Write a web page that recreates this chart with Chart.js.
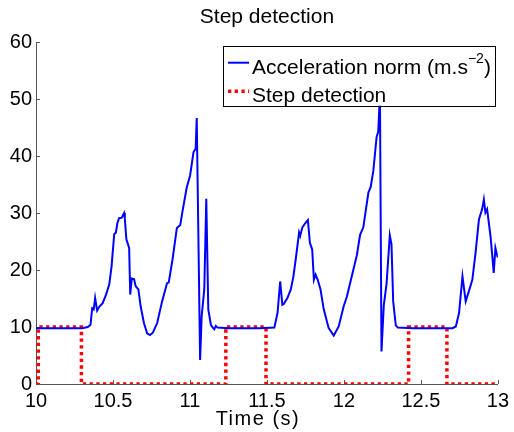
<!DOCTYPE html>
<html>
<head>
<meta charset="utf-8">
<title>Step detection</title>
<script src="https://cdn.jsdelivr.net/npm/chart.js@4.4.0/dist/chart.umd.min.js"></script>
<style>
  body { margin: 0; background: #fff; }
  canvas { display: block; }
</style>
</head>
<body>
<canvas id="stepChart" width="514" height="432"></canvas>
<script>
// acceleration norm samples (time in s, value in m.s^-2)
const accTime = [
  10.000, 10.100, 10.200, 10.300, 10.336, 10.354, 10.365, 10.375, 10.384, 10.397,
  10.412, 10.433, 10.455, 10.476, 10.491, 10.508, 10.519, 10.529, 10.540, 10.557,
  10.572, 10.577, 10.587, 10.605, 10.612, 10.622, 10.637, 10.647, 10.665, 10.680,
  10.701, 10.722, 10.740, 10.759, 10.787, 10.819, 10.851, 10.862, 10.887, 10.915,
  10.937, 10.952, 10.979, 11.001, 11.023, 11.037, 11.044, 11.066, 11.076, 11.093,
  11.106, 11.119, 11.136, 11.148, 11.158, 11.168, 11.179, 11.250, 11.350, 11.450,
  11.548, 11.569, 11.586, 11.600, 11.608, 11.633, 11.655, 11.672, 11.687, 11.709,
  11.716, 11.730, 11.751, 11.766, 11.779, 11.794, 11.805, 11.816, 11.830, 11.848,
  11.869, 11.901, 11.934, 11.966, 11.998, 12.019, 12.051, 12.084, 12.105, 12.126,
  12.159, 12.174, 12.191, 12.212, 12.223, 12.234, 12.244, 12.259, 12.277, 12.298,
  12.309, 12.320, 12.337, 12.350, 12.450, 12.550, 12.650, 12.705, 12.727, 12.748,
  12.770, 12.791, 12.812, 12.834, 12.855, 12.877, 12.898, 12.909, 12.919, 12.930,
  12.952, 12.962, 12.973, 12.984, 12.999
];
const accNorm = [
  9.8, 9.8, 9.8, 9.8, 10.0, 10.4, 13.3, 13.1, 15.1, 12.9,
  13.6, 14.2, 15.7, 17.5, 20.7, 26.3, 26.6, 28.3, 29.1, 29.2,
  30.0, 29.0, 25.4, 23.9, 15.7, 18.5, 18.4, 17.2, 16.6, 13.6,
  10.7, 8.9, 8.6, 9.0, 10.7, 14.5, 17.7, 17.8, 21.9, 27.4,
  27.9, 30.4, 34.5, 36.6, 40.7, 41.3, 46.7, 4.2, 11.9, 16.6,
  32.5, 13.1, 10.4, 9.9, 9.6, 10.2, 9.9, 9.8, 9.8, 9.8,
  9.9, 12.5, 18.0, 13.9, 14.0, 15.1, 16.6, 18.9, 21.9, 26.6,
  26.0, 27.5, 28.3, 28.8, 24.8, 23.6, 18.3, 19.2, 18.3, 16.6,
  13.1, 9.8, 8.5, 10.1, 13.6, 15.3, 18.9, 22.6, 26.2, 27.5,
  33.6, 34.6, 37.4, 43.3, 44.3, 51.0, 5.7, 13.8, 17.6, 26.1,
  24.5, 14.5, 10.3, 9.9, 9.8, 9.8, 9.8, 9.8, 10.1, 12.5,
  18.9, 14.5, 16.3, 18.3, 23.0, 28.9, 30.7, 32.4, 30.1, 30.7,
  26.0, 23.0, 19.5, 23.9, 22.2
];

// step detector output (0 = step phase, 10 = still phase)
const stepTime = [10.000, 10.015, 10.015, 10.295, 10.295, 11.233, 11.233, 11.494, 11.494, 12.420, 12.420, 12.669, 12.669, 13.000];
const stepValue = [0, 0, 10, 10, 0, 0, 10, 10, 0, 0, 10, 10, 0, 0];

const xTicks = [10, 10.5, 11, 11.5, 12, 12.5, 13];
const yTicks = [0, 10, 20, 30, 40, 50, 60];

const FONT = 'Liberation Sans, Arial, Helvetica, sans-serif';
const AXIS_COLOR = '#555';

function toPoints(xs, ys) {
  return xs.map((x, i) => ({ x: x, y: ys[i] }));
}

// draws "text^{sup}" with a raised, smaller superscript
function drawRichText(ctx, text, x, y, size) {
  const parts = text.split(/\^\{([^}]*)\}/);
  let cx = x;
  parts.forEach((part, i) => {
    if (!part) return;
    const sup = i % 2 === 1;
    ctx.font = (sup ? Math.round(size * 0.68) : size) + 'px ' + FONT;
    ctx.fillText(part, cx, sup ? y - size * 0.5 : y);
    cx += ctx.measureText(part).width;
  });
  return cx - x;
}

function richTextWidth(ctx, text, size) {
  const parts = text.split(/\^\{([^}]*)\}/);
  let w = 0;
  parts.forEach((part, i) => {
    if (!part) return;
    ctx.font = (i % 2 === 1 ? Math.round(size * 0.68) : size) + 'px ' + FONT;
    w += ctx.measureText(part).width;
  });
  return w;
}

// inward tick marks, matlab style
const innerTicks = {
  id: 'innerTicks',
  beforeDatasetsDraw(chart) {
    const { ctx, chartArea: a, scales: { x, y } } = chart;
    ctx.save();
    ctx.strokeStyle = AXIS_COLOR;
    ctx.lineWidth = 1;
    ctx.beginPath();
    xTicks.forEach(v => {
      const px = Math.round(x.getPixelForValue(v)) + 0.5;
      ctx.moveTo(px, a.bottom);
      ctx.lineTo(px, a.bottom - 4);
    });
    yTicks.forEach(v => {
      const py = Math.round(y.getPixelForValue(v)) + 0.5;
      ctx.moveTo(a.left, py);
      ctx.lineTo(a.left + 4, py);
    });
    ctx.stroke();
    ctx.restore();
  }
};

// x axis label
const xLabel = {
  id: 'xLabel',
  afterDraw(chart) {
    const { ctx, chartArea: a } = chart;
    ctx.save();
    ctx.font = '20px ' + FONT;
    ctx.fillStyle = '#000';
    ctx.textAlign = 'center';
    ctx.textBaseline = 'alphabetic';
    ctx.letterSpacing = '1.5px';
    ctx.fillText('Time (s)', (a.left + a.right) / 2 - 9, 425);
    ctx.restore();
  }
};

// boxed legend in the upper right corner of the plot
const boxLegend = {
  id: 'boxLegend',
  afterDraw(chart) {
    const { ctx, chartArea: a } = chart;
    const size = 21;
    const sets = chart.data.datasets;
    ctx.save();
    let textW = 0;
    sets.forEach(ds => { textW = Math.max(textW, richTextWidth(ctx, ds.label, size)); });
    const w = 5 + 21 + 3 + textW + 4;
    const h = 60;
    const right = a.right - 3;
    const top = a.top + 3.5;
    const left = right - w;
    ctx.fillStyle = '#fff';
    ctx.fillRect(left, top, w, h);
    ctx.strokeStyle = '#000';
    ctx.lineWidth = 1;
    ctx.strokeRect(Math.round(left) + 0.5, Math.round(top) + 0.5, Math.round(w), Math.round(h));
    sets.forEach((ds, i) => {
      const cy = top + 17 + i * 28.5;
      ctx.beginPath();
      ctx.strokeStyle = ds.borderColor;
      ctx.lineWidth = ds.borderWidth;
      ctx.setLineDash(ds.borderDash || []);
      ctx.moveTo(left + 5, cy);
      ctx.lineTo(left + 26, cy);
      ctx.stroke();
      ctx.setLineDash([]);
      ctx.fillStyle = '#000';
      ctx.textBaseline = 'alphabetic';
      drawRichText(ctx, ds.label, left + 29, cy + 11, size);
    });
    ctx.restore();
  }
};

const tickFont = { family: FONT, size: 20 };

new Chart(document.getElementById('stepChart'), {
  type: 'line',
  data: {
    datasets: [
      {
        label: 'Acceleration norm (m.s^{\u22122})',
        data: toPoints(accTime, accNorm),
        borderColor: '#0000ff',
        borderWidth: 2,
        pointRadius: 0,
        tension: 0
      },
      {
        label: 'Step detection',
        data: toPoints(stepTime, stepValue),
        borderColor: '#ff0000',
        borderWidth: 3.5,
        borderDash: [3.3, 3.4],
        borderCapStyle: 'butt',
        pointRadius: 0,
        tension: 0
      }
    ]
  },
  options: {
    responsive: false,
    animation: false,
    layout: { padding: { left: 0, right: 11.5, top: 0, bottom: 0 } },
    plugins: {
      legend: { display: false },
      tooltip: { enabled: false },
      title: {
        display: true,
        fullSize: false,
        text: 'Step detection',
        color: '#000',
        font: { family: FONT, size: 21, weight: 'normal' },
        padding: { top: 5, bottom: 12 }
      }
    },
    scales: {
      x: {
        type: 'linear',
        min: 10,
        max: 13,
        afterBuildTicks: s => { s.ticks = xTicks.map(v => ({ value: v })); },
        ticks: { font: tickFont, color: '#000', padding: 5, maxRotation: 0, autoSkip: false, callback: v => String(v) },
        grid: { drawOnChartArea: false, drawTicks: false },
        border: { color: AXIS_COLOR },
        afterFit: s => { s.height = 48; }
      },
      y: {
        min: 0,
        max: 60,
        afterBuildTicks: s => { s.ticks = yTicks.map(v => ({ value: v })); },
        ticks: { font: tickFont, color: '#000', padding: 4, callback: v => String(v) },
        grid: { drawOnChartArea: false, drawTicks: false },
        border: { color: AXIS_COLOR },
        afterFit: s => { s.width = 36; }
      }
    }
  },
  plugins: [innerTicks, boxLegend, xLabel]
});
</script>
</body>
</html>
